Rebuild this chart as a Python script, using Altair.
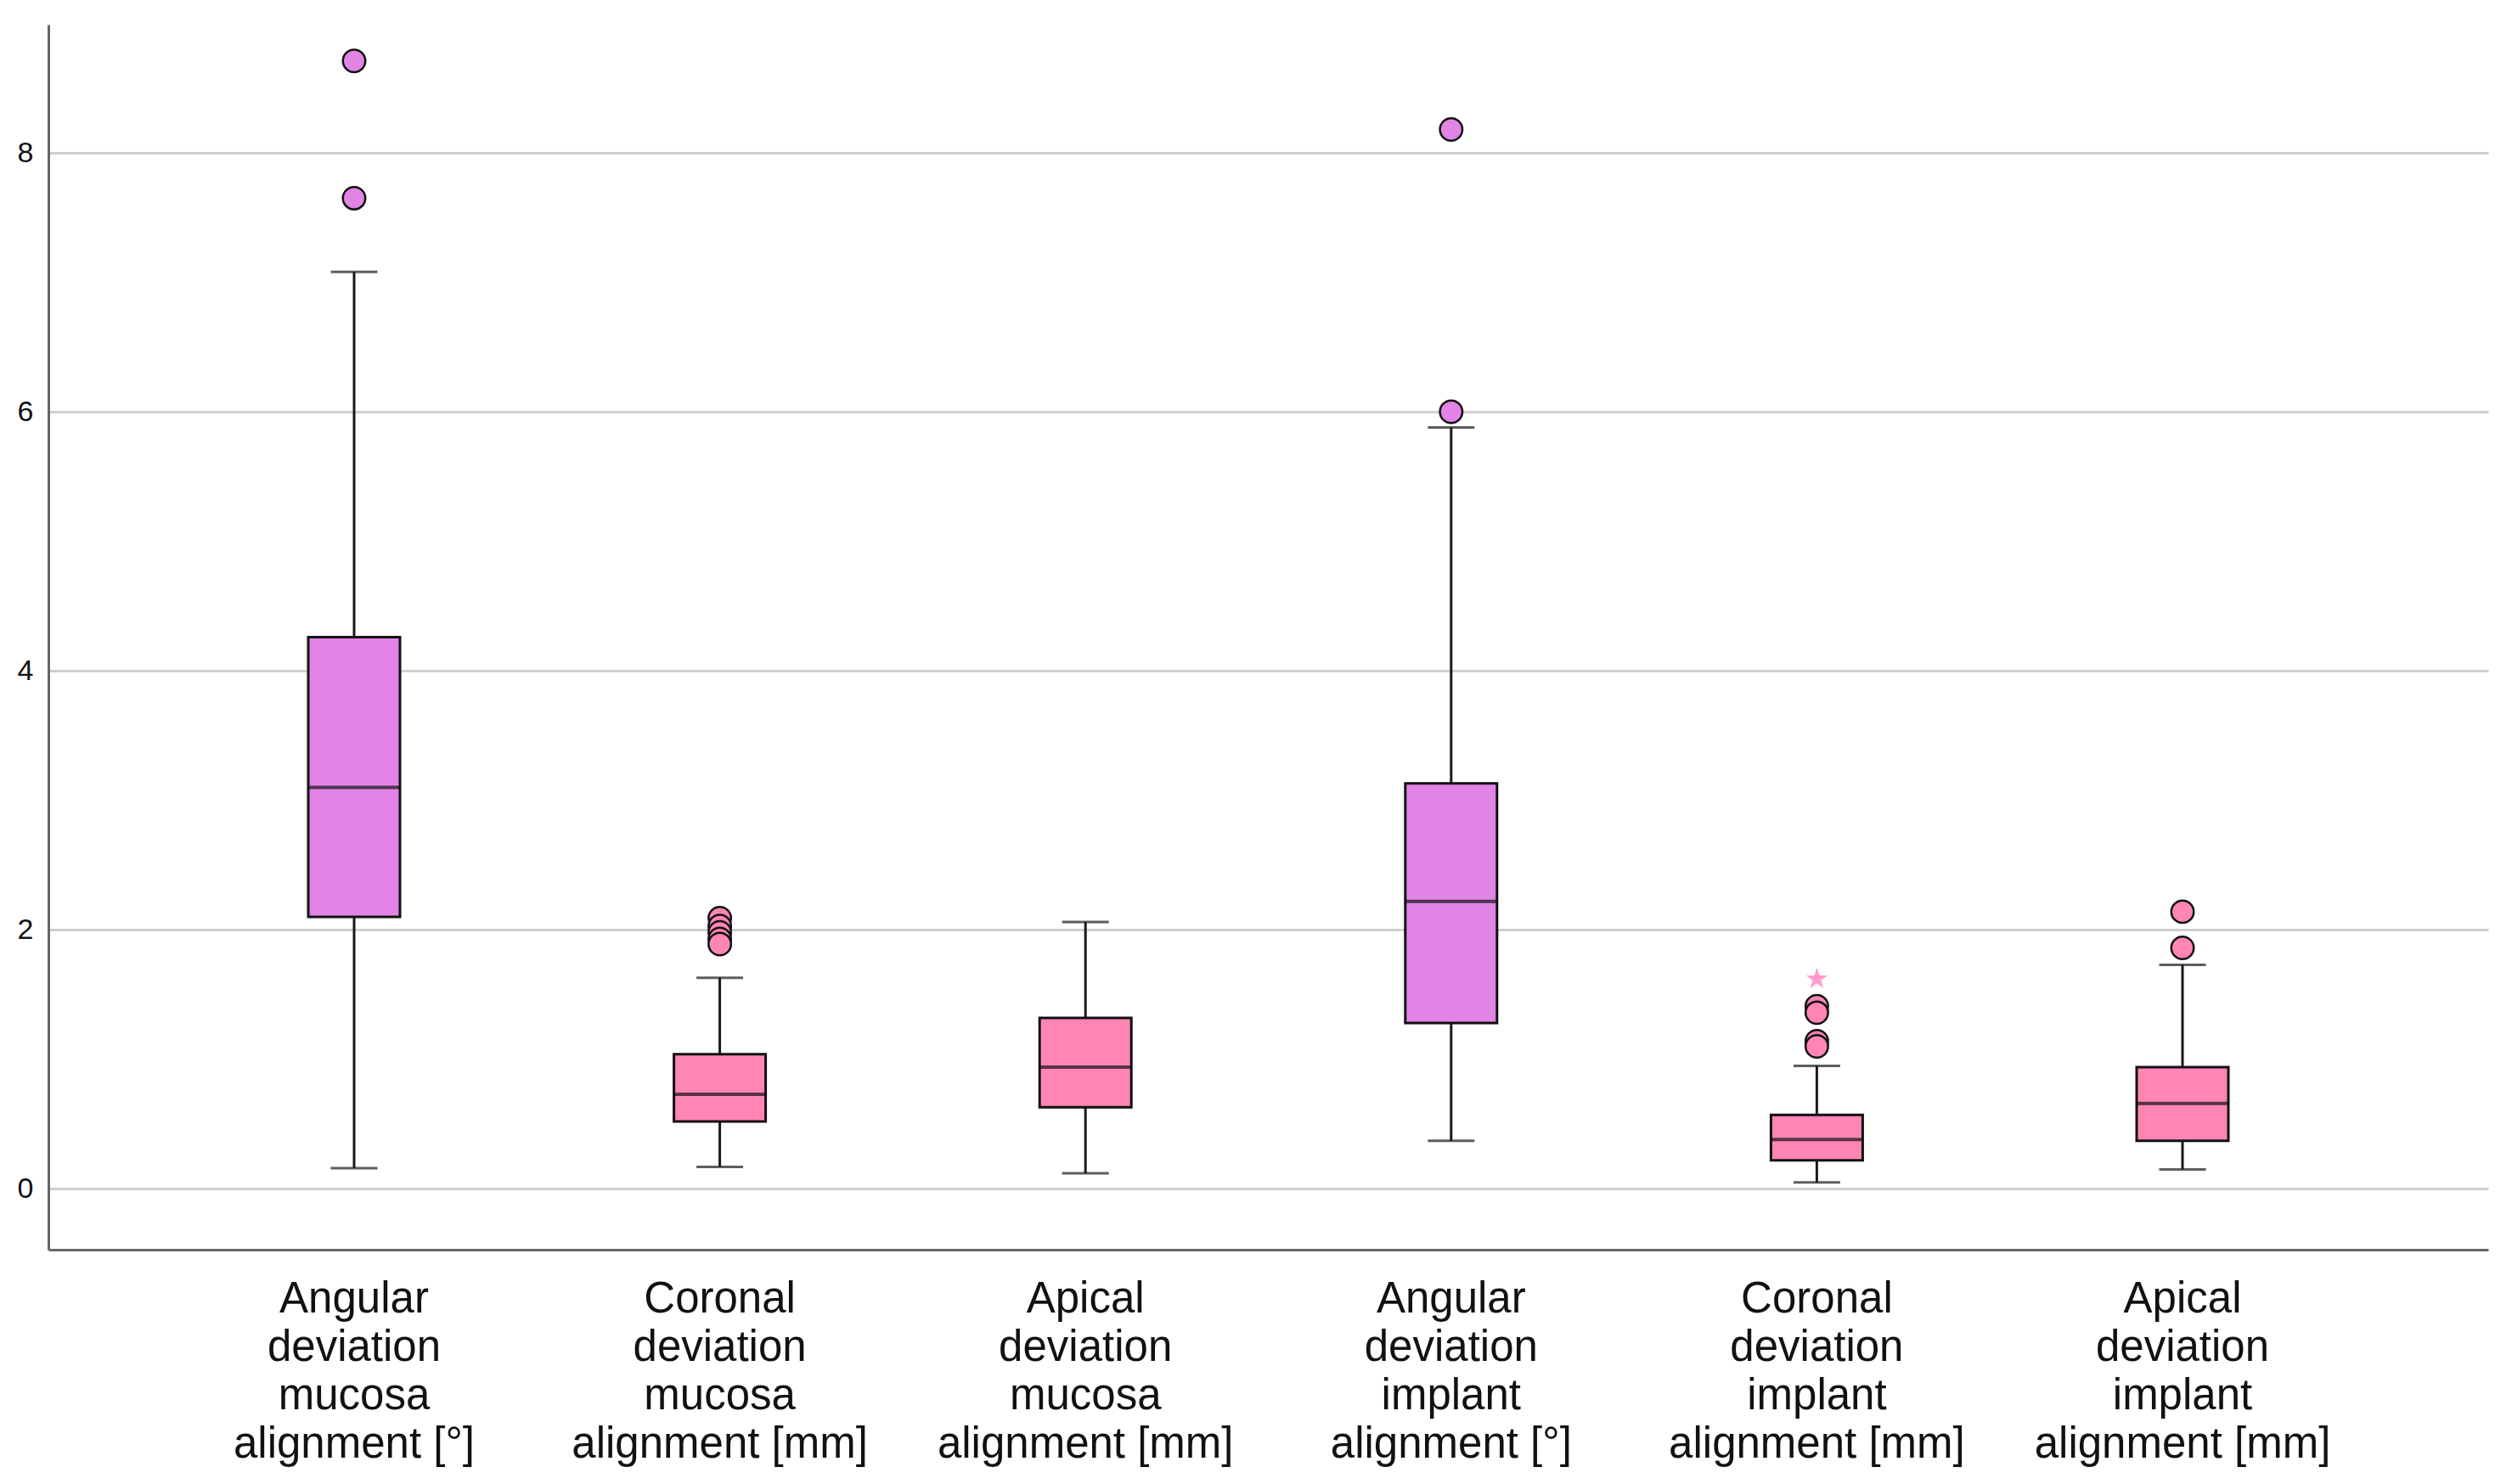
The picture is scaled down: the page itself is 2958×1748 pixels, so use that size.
import altair as alt
import pandas as pd

# ---- data ----
categories = [
    "Angular deviation mucosa alignment [°]",
    "Coronal deviation mucosa alignment [mm]",
    "Apical deviation mucosa alignment [mm]",
    "Angular deviation implant alignment [°]",
    "Coronal deviation implant alignment [mm]",
    "Apical deviation implant alignment [mm]",
]
label_lines = [
    "Angular\ndeviation\nmucosa\nalignment [°]",
    "Coronal\ndeviation\nmucosa\nalignment [mm]",
    "Apical\ndeviation\nmucosa\nalignment [mm]",
    "Angular\ndeviation\nimplant\nalignment [°]",
    "Coronal\ndeviation\nimplant\nalignment [mm]",
    "Apical\ndeviation\nimplant\nalignment [mm]",
]
unit_group = ["deg", "mm", "mm", "deg", "mm", "mm"]
whisker_low = [0.16, 0.17, 0.12, 0.37, 0.05, 0.15]
q1 = [2.10, 0.52, 0.63, 1.28, 0.22, 0.37]
median = [3.10, 0.73, 0.94, 2.22, 0.38, 0.66]
q3 = [4.26, 1.04, 1.32, 3.13, 0.57, 0.94]
whisker_high = [7.08, 1.63, 2.06, 5.88, 0.95, 1.73]

outlier_cat = [0, 0, 1, 1, 1, 1, 1, 3, 3, 4, 4, 4, 4, 5, 5]
outlier_val = [8.71, 7.65, 2.09, 2.03, 1.98, 1.93, 1.89, 8.18, 6.00,
               1.41, 1.36, 1.14, 1.10, 2.14, 1.86]
extreme_cat = [4]
extreme_val = [1.62]

y_ticks = [0, 2, 4, 6, 8]
group_domain = ["deg", "mm"]
group_colors = ["#E283E6", "#FF85B5"]

# ---- tables ----
box_df = pd.DataFrame({
    "cat": categories,
    "group": unit_group,
    "lo": whisker_low,
    "q1": q1,
    "med": median,
    "q3": q3,
    "hi": whisker_high,
})
out_df = pd.DataFrame({
    "cat": [categories[i] for i in outlier_cat],
    "group": [unit_group[i] for i in outlier_cat],
    "val": outlier_val,
})
ext_df = pd.DataFrame({
    "cat": [categories[i] for i in extreme_cat],
    "val": extreme_val,
})

label_map = {c: l for c, l in zip(categories, label_lines)}
label_expr = "{" + ",".join(
    "'" + c + "':" + "'" + l.replace("\n", "|") + "'" for c, l in label_map.items()
) + "}"

font = "Liberation Sans"

x_enc = alt.X(
    "cat:N",
    sort=categories,
    scale=alt.Scale(paddingInner=0, paddingOuter=0.336),
    axis=alt.Axis(
        title=None,
        labelAngle=0,
        labelFont=font,
        labelFontSize=51,
        labelLineHeight=57,
        labelColor="#111111",
        labelBaseline="top",
        labelPadding=33,
        labelLimit=0,
        labelOverlap=False,
        labelExpr="split(" + label_expr + "[datum.label], '|')",
        ticks=False,
        grid=False,
        domainColor="#666666",
        domainWidth=3,
    ),
)
y_scale = alt.Scale(domain=[-0.47, 8.99], nice=False, zero=False)
y_axis = alt.Axis(
    title=None,
    values=y_ticks,
    format="d",
    ticks=False,
    grid=True,
    gridColor="#cfcfcf",
    gridWidth=3,
    domainColor="#666666",
    domainWidth=3,
    labelFont=font,
    labelFontSize=34,
    labelColor="#111111",
    labelPadding=18,
)
color_scale = alt.Scale(domain=group_domain, range=group_colors)

base = alt.Chart(box_df)

whisker = base.mark_rule(color="#1a1a1a", strokeWidth=3).encode(
    x=x_enc,
    y=alt.Y("lo:Q", scale=y_scale, axis=y_axis),
    y2="hi:Q",
)
cap_lo = base.mark_tick(size=55, thickness=3, color="#1a1a1a").encode(
    x=x_enc, y=alt.Y("lo:Q", scale=y_scale)
)
cap_hi = base.mark_tick(size=55, thickness=3, color="#1a1a1a").encode(
    x=x_enc, y=alt.Y("hi:Q", scale=y_scale)
)
box = base.mark_bar(size=108, stroke="#111111", strokeWidth=3).encode(
    x=x_enc,
    y=alt.Y("q1:Q", scale=y_scale),
    y2="q3:Q",
    fill=alt.Fill("group:N", scale=color_scale, legend=None),
)
med = base.mark_tick(size=108, thickness=4, color="#111111").encode(
    x=x_enc, y=alt.Y("med:Q", scale=y_scale)
)
outliers = alt.Chart(out_df).mark_point(
    shape="circle", filled=True, size=700, stroke="#111111", strokeWidth=2.5, opacity=1
).encode(
    x=x_enc,
    y=alt.Y("val:Q", scale=y_scale),
    fill=alt.Fill("group:N", scale=color_scale, legend=None),
)
star_path = ("M0,-1L0.2245,-0.309L0.951,-0.309L0.363,0.118L0.588,0.809L0,0.382"
             "L-0.588,0.809L-0.363,0.118L-0.951,-0.309L-0.2245,-0.309Z")
extremes = alt.Chart(ext_df).mark_point(
    shape=star_path, filled=True, size=700, color="#FF9CCB", opacity=1
).encode(
    x=x_enc,
    y=alt.Y("val:Q", scale=y_scale),
)

chart = alt.layer(whisker, cap_lo, cap_hi, box, med, outliers, extremes).properties(
    width=2873,
    height=1443,
    background="white",
    autosize=alt.AutoSizeParams(type="none"),
    padding={"left": 49, "top": 21, "right": 14, "bottom": 272},
).configure_view(stroke=None)

chart.save("out.html", embed_options={"renderer": "svg", "actions": False})
